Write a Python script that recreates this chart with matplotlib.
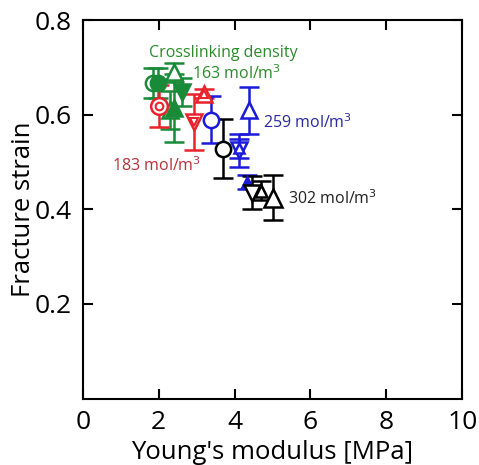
import numpy as np
import matplotlib
matplotlib.use('Agg')
import matplotlib.pyplot as plt

plt.rcParams['font.family'] = ['Open Sans', 'DejaVu Sans']

# Data: (modulus, strain, error)
green_x = [1.84, 1.97, 2.40, 2.30, 2.40, 2.62]
green_y = [0.668, 0.668, 0.690, 0.610, 0.615, 0.648]
green_e = [0.032, 0.032, 0.020, 0.040, 0.072, 0.030]
green_m = ['o', 'o', '^', '^', '^', 'v']
green_f = [False, True, False, False, True, True]

red_x = [2.00, 2.92, 3.18]
red_y = [0.619, 0.585, 0.645]
red_e = [0.045, 0.060, 0.010]
red_m = ['o', 'v', '^']

blue_x = [3.39, 4.39, 4.12, 4.12, 4.33]
blue_y = [0.590, 0.610, 0.525, 0.530, 0.458]
blue_e = [0.050, 0.050, 0.035, 0.020, 0.015]
blue_m = ['o', '^', 'v', '^', '^']
blue_s = [11, 12, 12, 7, 7]
blue_f = [False, False, False, False, True]

black_x = [3.70, 4.47, 4.70, 5.00]
black_y = [0.529, 0.435, 0.440, 0.425]
black_e = [0.063, 0.035, 0.020, 0.047]
black_m = ['o', 'v', '^', '^']
black_s = [11, 12, 8, 13]

GREEN = '#188a38'
RED = '#e8232b'
BLUE = '#1a1ad8'

fig = plt.figure(figsize=(4.79, 4.65), dpi=100)
ax = fig.add_axes([0.173, 0.143, 0.792, 0.813])

def errpoint(x, y, e, m, c, filled=False, ms=11):
    ax.errorbar(x, y, yerr=e, fmt='none', ecolor=c, elinewidth=1.8,
                capsize=7, capthick=1.8, zorder=2)
    ax.plot(x, y, m, ms=ms, mec=c, mew=1.8,
            mfc=c if filled else 'white', zorder=3)

for i in range(len(green_x)):
    errpoint(green_x[i], green_y[i], green_e[i], green_m[i], GREEN, green_f[i],
             11 if green_m[i] == 'o' else 12)

for i in range(len(red_x)):
    errpoint(red_x[i], red_y[i], red_e[i], red_m[i], RED, False, 12)
    # inner marker (double symbol)
    ax.plot(red_x[i], red_y[i], red_m[i], ms=5.5, mec=RED, mew=1.5,
            mfc='white', zorder=4)

for i in range(len(blue_x)):
    errpoint(blue_x[i], blue_y[i], blue_e[i], blue_m[i], BLUE, blue_f[i], blue_s[i])

for i in range(len(black_x)):
    errpoint(black_x[i], black_y[i], black_e[i], black_m[i], 'black', False, black_s[i])

ax.text(1.74, 0.731, 'Crosslinking density', color='#2a8a2a', fontsize=11.5,
        va='center')
ax.text(2.88, 0.687, '163 mol/m$^3$', color='#2a8a2a', fontsize=11.5, va='center')
ax.text(0.76, 0.492, '183 mol/m$^3$', color='#b83038', fontsize=11.5, va='center')
ax.text(4.74, 0.583, '259 mol/m$^3$', color='#2828a0', fontsize=11.5, va='center')
ax.text(5.42, 0.422, '302 mol/m$^3$', color='#222222', fontsize=11.5, va='center')

ax.set_xlim(0, 10)
ax.set_ylim(0, 0.8)
ax.set_xticks([0, 2, 4, 6, 8, 10])
ax.set_yticks([0.2, 0.4, 0.6, 0.8])
ax.set_yticklabels(['0.2', '0.4', '0.6', '0.8'])
ax.tick_params(direction='in', length=7, width=1.5, labelsize=19,
               top=True, right=True, pad=8)
for s in ax.spines.values():
    s.set_linewidth(1.5)

ax.set_xlabel("Young's modulus [MPa]", fontsize=18.5, labelpad=4)
ax.set_ylabel('Fracture strain', fontsize=18.5, labelpad=-1)

fig.savefig('out.png', dpi=100)
